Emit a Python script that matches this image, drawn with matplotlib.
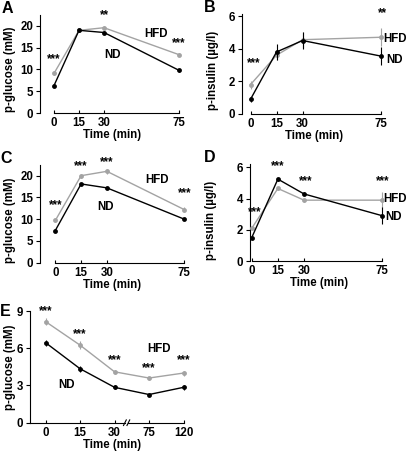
import matplotlib
matplotlib.use('Agg')
import matplotlib.pyplot as plt

plt.rcParams['font.family'] = ['Liberation Sans', 'DejaVu Sans']
plt.rcParams['font.weight'] = 'bold'
plt.rcParams['font.size'] = 8
plt.rcParams['axes.linewidth'] = 0.8

# data
time_min = [0, 15, 30, 75]
time_e = ['0', '15', '30', '75', '120']

glc_a_nd = [6.3, 19.0, 18.5, 9.8]
glc_a_hfd = [9.1, 19.0, 19.6, 13.4]
glc_a_err = [0.3, 0.3, 0.3, 0.3]

ins_b_nd = [0.9, 3.8, 4.5, 3.55]
ins_b_nd_err = [0.15, 0.5, 0.5, 0.55]
ins_b_hfd = [1.8, 3.6, 4.55, 4.7]
ins_b_hfd_err = [0.25, 0.3, 0.5, 0.55]

glc_c_nd = [7.4, 18.1, 17.2, 10.0]
glc_c_nd_err = [0.3, 0.3, 0.3, 0.3]
glc_c_hfd = [9.7, 20.0, 21.0, 12.2]
glc_c_hfd_err = [0.4, 0.5, 0.5, 0.5]

ins_d_nd = [1.5, 5.25, 4.3, 2.9]
ins_d_nd_err = [0.08, 0.1, 0.1, 0.55]
ins_d_hfd = [2.1, 4.65, 3.9, 3.9]
ins_d_hfd_err = [0.08, 0.1, 0.1, 0.5]

glc_e_nd = [6.45, 4.35, 2.85, 2.27, 2.85]
glc_e_nd_err = [0.25, 0.25, 0.15, 0.12, 0.18]
glc_e_hfd = [8.15, 6.25, 4.1, 3.6, 4.0]
glc_e_hfd_err = [0.25, 0.3, 0.15, 0.12, 0.2]

GREY = '#a3a3a3'
FS = 8.3
W, H = 408, 457
fig = plt.figure(figsize=(W / 100, H / 100), dpi=100)


def make_ax(box, xlim, ylim, yticks, ylabel, ylab_px, xlab_px, xticks=None, trim=True):
    l, t, r, b = box
    ax = fig.add_axes([l / W, 1 - b / H, (r - l) / W, (b - t) / H])
    ax.set_xlim(*xlim)
    ax.set_ylim(*ylim)
    ax.spines['top'].set_visible(False)
    ax.spines['right'].set_visible(False)
    if trim:
        ax.spines['bottom'].set_bounds(0, 75)
    ax.set_yticks(yticks)
    if xticks is not None:
        ax.set_xticks(xticks)
    ax.tick_params(axis='y', direction='out', length=3, width=0.8, pad=2, labelsize=FS)
    ax.tick_params(axis='x', direction='in', length=2.5, width=0.8, pad=3, labelsize=FS)
    ax.set_ylabel(ylabel, fontsize=FS, fontweight='bold', va='center')
    ax.yaxis.set_label_coords((ylab_px[0] - l) / (r - l), (b - ylab_px[1]) / (b - t))
    ax.set_xlabel('Time (min)', fontsize=FS, fontweight='bold', va='center')
    ax.xaxis.set_label_coords((xlab_px[0] - l) / (r - l), (b - xlab_px[1]) / (b - t))
    return ax


def draw(ax, x, nd, nd_err, hfd, hfd_err):
    ax.errorbar(x, hfd, yerr=hfd_err, color=GREY, lw=1, marker='o', ms=3.5,
                mew=0, elinewidth=0.8, capsize=1.5, clip_on=False, zorder=3)
    ax.errorbar(x, nd, yerr=nd_err, color='black', lw=1, marker='o', ms=3.5,
                mew=0, elinewidth=0.8, capsize=1.5, clip_on=False, zorder=4)


def stars(ax, pos):
    for x, y, s in pos:
        ax.text(x, y, s, ha='center', va='center', fontsize=FS, fontweight='bold', clip_on=False)


# A
ax = make_ax((40, 15.1, 187.4, 113), (-8.4, 80), (0, 22.5), [0, 5, 10, 15, 20],
             'p-glucose (mM)', (10, 69), (112, 135), xticks=time_min)
draw(ax, time_min, glc_a_nd, glc_a_err, glc_a_hfd, glc_a_err)
stars(ax, [(0, 12.4, '***'), (30, 22.4, '**'), (75, 16.0, '***')])
ax.text(61, 18.1, 'HFD', ha='center', va='center', fontsize=FS)
ax.text(35, 13.3, 'ND', ha='center', va='center', fontsize=FS)

# B
ax = make_ax((242, 14.4, 389.3, 114), (-4.9, 80), (0, 6.1), [0, 2, 4, 6],
             'p-insulin (µg/l)', (213, 70), (314, 136), xticks=time_min)
draw(ax, time_min, ins_b_nd, ins_b_nd_err, ins_b_hfd, ins_b_hfd_err)
stars(ax, [(2, 3.1, '***'), (76, 6.15, '**')])
ax.text(76.5, 4.6, 'HFD', ha='left', va='center', fontsize=FS)
ax.text(78.5, 3.3, 'ND', ha='left', va='center', fontsize=FS)

# C
ax = make_ax((40, 164.8, 192.9, 262.7), (-8.9, 80), (0, 22.5), [0, 5, 10, 15, 20],
             'p-glucose (mM)', (10, 220), (112, 285), xticks=time_min)
draw(ax, time_min, glc_c_nd, glc_c_nd_err, glc_c_hfd, glc_c_hfd_err)
stars(ax, [(0, 13.3, '***'), (15, 22.2, '***'), (30, 23.2, '***'), (75, 16.0, '***')])
ax.text(59, 18.9, 'HFD', ha='center', va='center', fontsize=FS)
ax.text(29, 12.9, 'ND', ha='center', va='center', fontsize=FS)

# D
ax = make_ax((250, 164.3, 391.1, 261), (-1, 80), (0, 6.2), [0, 2, 4, 6],
             'p-insulin (µg/l)', (211, 220), (319, 283), xticks=time_min)
draw(ax, time_min, ins_d_nd, ins_d_nd_err, ins_d_hfd, ins_d_hfd_err)
stars(ax, [(1.5, 3.16, '***'), (15, 6.1, '***'), (31, 5.1, '***'), (75, 5.1, '***')])
ax.text(75.5, 4.0, 'HFD', ha='left', va='center', fontsize=FS)
ax.text(76.5, 2.85, 'ND', ha='left', va='center', fontsize=FS)

# E
xe = list(range(len(time_e)))
ax = make_ax((30, 311, 193.9, 422.7), (-0.45, 4.3), (0, 9), [0, 3, 6, 9],
             'p-glucose (mM)', (10, 367), (112, 445), trim=False)
ax.set_xticks(xe)
ax.set_xticklabels(time_e)
draw(ax, xe, glc_e_nd, glc_e_nd_err, glc_e_hfd, glc_e_hfd_err)
stars(ax, [(0, 9.0, '***'), (1, 7.15, '***'), (2, 5.05, '***'), (3, 4.4, '***'), (4, 5.0, '***')])
ax.text(3.3, 5.9, 'HFD', ha='center', va='center', fontsize=FS)
ax.text(0.6, 3.05, 'ND', ha='center', va='center', fontsize=FS)
# axis break between 30 and 75
ax.spines['bottom'].set_visible(False)
tr = ax.get_xaxis_transform()
ax.plot([-0.45, 2.3], [0, 0], color='black', lw=0.8, transform=tr, clip_on=False)
ax.plot([2.4, 4], [0, 0], color='black', lw=0.8, transform=tr, clip_on=False)
for xb in (2.3, 2.4):
    ax.plot([xb - 0.04, xb + 0.04], [-0.025, 0.025], color='black', lw=0.8,
            transform=tr, clip_on=False)

# panel letters
for letter, px, py in [('A', 2, 1), ('B', 204, 0), ('C', 0, 151), ('D', 204, 150), ('E', 0, 304)]:
    fig.text(px / W, 1 - py / H, letter, fontsize=11.5, fontweight='bold', ha='left', va='top')

fig.savefig('out.png', dpi=100)
